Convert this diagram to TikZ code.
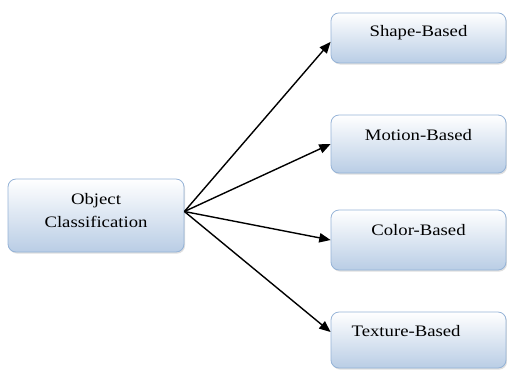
\documentclass[tikz,border=0pt]{standalone}
\usepackage{fontspec}
\setmainfont{Liberation Serif}[FakeStretch=1.17]
\usetikzlibrary{arrows.meta, shadows}

\definecolor{boxborder}{HTML}{95B3D7}
\definecolor{boxfill}{HTML}{B9CDE5}

\tikzset{
  clsbox/.style={draw=boxborder, line width=0.6pt, rounded corners=6pt,
    top color=white, bottom color=boxfill,
    drop shadow={shadow xshift=0.8pt, shadow yshift=-1.2pt, opacity=0.25},
    minimum width=131.25pt, inner xsep=0pt, inner ysep=0pt,
    font=\fontsize{12}{17.25}\selectfont},
  clsarrow/.style={line width=1.05pt, -{Triangle[length=8.5pt, width=7pt]}}
}

\begin{document}
\begin{tikzpicture}[x=0.75pt, y=-0.75pt]
    \useasboundingbox (0,0) rectangle (507,369);

    % Boite de gauche
    \node[clsbox, minimum width=132pt, text height=36pt, text depth=18.75pt, align=center]
        (obj) at (96,215.5) {Object\\Classification};

    % Boites de droite
    \node[clsbox, text height=17.5pt, text depth=20pt] (shape) at (418.5,37.9) {Shape-Based};
    \node[clsbox, text height=18.75pt, text depth=24.75pt] (motion) at (418.5,144) {Motion-Based};
    \node[clsbox, text height=18.75pt, text depth=26.25pt] (color) at (418.5,240) {Color-Based};
    \node[clsbox, inner xsep=15.5pt, text width=100.25pt, align=left,
        text height=18pt, text depth=24pt] (texture) at (418.5,340) {Texture-Based};

    % Fleches
    \draw[clsarrow] ([yshift=3pt]obj.east) -- ([yshift=-3pt]shape.west);
    \draw[clsarrow] ([yshift=3pt]obj.east) -- (motion.west);
    \draw[clsarrow] ([yshift=3pt]obj.east) -- (color.west);
    \draw[clsarrow] ([yshift=3pt]obj.east) -- ([yshift=6pt]texture.west);

\end{tikzpicture}
\end{document}
